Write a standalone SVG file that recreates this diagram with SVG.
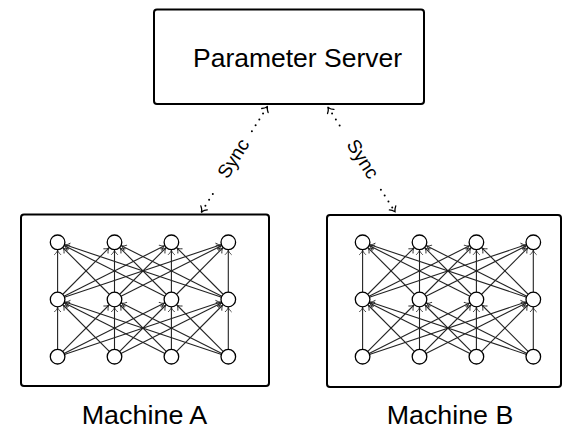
<svg xmlns="http://www.w3.org/2000/svg" xmlns:xlink="http://www.w3.org/1999/xlink" width="563" height="429" viewBox="0 0 563 429">
  <style>
    .box { fill: #ffffff; stroke: #000000; stroke-width: 2; }
    .label { font-family: "Liberation Sans", Arial, sans-serif; font-size: 26px; fill: #000000; text-anchor: middle; }
    .sync { font-family: "Liberation Sans", Arial, sans-serif; font-size: 19px; fill: #000000; text-anchor: middle; }
    .edge { stroke: #222222; stroke-width: 1.1; fill: none; marker-end: url(#tip); }
    .neuron { fill: #ffffff; stroke: #000000; stroke-width: 1.3; }
    .dots { stroke: #000000; stroke-width: 2; stroke-linecap: round; stroke-dasharray: 0 7; fill: none; }
  </style>
  <defs>
    <!-- small open arrow tip, pulled back onto the neuron outline -->
    <marker id="tip" markerUnits="userSpaceOnUse" viewBox="-6 -5 16 10" markerWidth="16" markerHeight="10" refX="8.2" refY="0" orient="auto" overflow="visible">
      <path d="M -4,-3 C -2.5,-1.3 -0.8,-0.4 0,0 C -0.8,0.4 -2.5,1.3 -4,3" fill="none" stroke="#222222" stroke-width="0.9" stroke-linecap="round"/>
    </marker>
    <!-- open arrow tip for the sync links -->
    <marker id="syncTip" markerUnits="userSpaceOnUse" viewBox="-6 -5 8 10" markerWidth="8" markerHeight="10" refX="0" refY="0" orient="auto-start-reverse" overflow="visible">
      <path d="M -4.5,-3.8 C -2.8,-1.6 -0.9,-0.5 0,0 C -0.9,0.5 -2.8,1.6 -4.5,3.8" fill="none" stroke="#000000" stroke-width="1.3" stroke-linecap="round"/>
    </marker>
    <!-- 4-4-4 fully connected network -->
    <g id="net">
      <g id="edges">
        <!-- bottom layer to middle layer -->
        <line class="edge" x1="57.6" y1="356.7" x2="57.6" y2="299.5"/>
        <line class="edge" x1="57.6" y1="356.7" x2="114.5" y2="299.5"/>
        <line class="edge" x1="57.6" y1="356.7" x2="171.4" y2="299.5"/>
        <line class="edge" x1="57.6" y1="356.7" x2="228.3" y2="299.5"/>
        <line class="edge" x1="114.5" y1="356.7" x2="57.6" y2="299.5"/>
        <line class="edge" x1="114.5" y1="356.7" x2="114.5" y2="299.5"/>
        <line class="edge" x1="114.5" y1="356.7" x2="171.4" y2="299.5"/>
        <line class="edge" x1="114.5" y1="356.7" x2="228.3" y2="299.5"/>
        <line class="edge" x1="171.4" y1="356.7" x2="57.6" y2="299.5"/>
        <line class="edge" x1="171.4" y1="356.7" x2="114.5" y2="299.5"/>
        <line class="edge" x1="171.4" y1="356.7" x2="171.4" y2="299.5"/>
        <line class="edge" x1="171.4" y1="356.7" x2="228.3" y2="299.5"/>
        <line class="edge" x1="228.3" y1="356.7" x2="57.6" y2="299.5"/>
        <line class="edge" x1="228.3" y1="356.7" x2="114.5" y2="299.5"/>
        <line class="edge" x1="228.3" y1="356.7" x2="171.4" y2="299.5"/>
        <line class="edge" x1="228.3" y1="356.7" x2="228.3" y2="299.5"/>
        <!-- middle layer to top layer -->
        <line class="edge" x1="57.6" y1="299.5" x2="57.6" y2="242.3"/>
        <line class="edge" x1="57.6" y1="299.5" x2="114.5" y2="242.3"/>
        <line class="edge" x1="57.6" y1="299.5" x2="171.4" y2="242.3"/>
        <line class="edge" x1="57.6" y1="299.5" x2="228.3" y2="242.3"/>
        <line class="edge" x1="114.5" y1="299.5" x2="57.6" y2="242.3"/>
        <line class="edge" x1="114.5" y1="299.5" x2="114.5" y2="242.3"/>
        <line class="edge" x1="114.5" y1="299.5" x2="171.4" y2="242.3"/>
        <line class="edge" x1="114.5" y1="299.5" x2="228.3" y2="242.3"/>
        <line class="edge" x1="171.4" y1="299.5" x2="57.6" y2="242.3"/>
        <line class="edge" x1="171.4" y1="299.5" x2="114.5" y2="242.3"/>
        <line class="edge" x1="171.4" y1="299.5" x2="171.4" y2="242.3"/>
        <line class="edge" x1="171.4" y1="299.5" x2="228.3" y2="242.3"/>
        <line class="edge" x1="228.3" y1="299.5" x2="57.6" y2="242.3"/>
        <line class="edge" x1="228.3" y1="299.5" x2="114.5" y2="242.3"/>
        <line class="edge" x1="228.3" y1="299.5" x2="171.4" y2="242.3"/>
        <line class="edge" x1="228.3" y1="299.5" x2="228.3" y2="242.3"/>
      </g>
      <g id="neurons">
        <circle class="neuron" cx="57.6" cy="242.3" r="7.3"/>
        <circle class="neuron" cx="114.5" cy="242.3" r="7.3"/>
        <circle class="neuron" cx="171.4" cy="242.3" r="7.3"/>
        <circle class="neuron" cx="228.3" cy="242.3" r="7.3"/>
        <circle class="neuron" cx="57.6" cy="299.5" r="7.3"/>
        <circle class="neuron" cx="114.5" cy="299.5" r="7.3"/>
        <circle class="neuron" cx="171.4" cy="299.5" r="7.3"/>
        <circle class="neuron" cx="228.3" cy="299.5" r="7.3"/>
        <circle class="neuron" cx="57.6" cy="356.7" r="7.3"/>
        <circle class="neuron" cx="114.5" cy="356.7" r="7.3"/>
        <circle class="neuron" cx="171.4" cy="356.7" r="7.3"/>
        <circle class="neuron" cx="228.3" cy="356.7" r="7.3"/>
      </g>
    </g>
  </defs>

  <rect width="563" height="429" fill="#ffffff"/>

  <!-- parameter server -->
  <g id="parameter-server">
    <rect class="box" x="154" y="9.5" width="270" height="94.5" rx="3"/>
    <text class="label" x="297.5" y="66.5" textLength="209" lengthAdjust="spacingAndGlyphs">Parameter Server</text>
  </g>

  <!-- machine A -->
  <g id="machine-a">
    <rect class="box" x="21" y="214.5" width="248" height="171.5" rx="3"/>
    <use xlink:href="#net" href="#net"/>
    <text class="label" x="144.5" y="424.3" textLength="125.6" lengthAdjust="spacingAndGlyphs">Machine A</text>
  </g>

  <!-- machine B -->
  <g id="machine-b">
    <rect class="box" x="327" y="215" width="234" height="172" rx="3"/>
    <use xlink:href="#net" href="#net" transform="translate(305,0)"/>
    <text class="label" x="450" y="424.3" textLength="126.6" lengthAdjust="spacingAndGlyphs">Machine B</text>
  </g>

  <!-- sync links between the machines and the server -->
  <g id="connectors">
    <g id="sync-a">
      <path class="dots" d="M 201.7,211.7 L 215.5,189.6" marker-start="url(#syncTip)"/>
      <path class="dots" d="M 251.9,131.3 L 267.3,106.7" marker-end="url(#syncTip)"/>
      <text class="sync" transform="translate(234.5,159.2) rotate(-58)" y="5">Sync</text>
    </g>
    <g id="sync-b">
      <path class="dots" d="M 328.3,107.7 L 342.6,130.0"  marker-start="url(#syncTip)"/>
      <path class="dots" d="M 380.9,189.7 L 395,211.7" marker-end="url(#syncTip)"/>
      <text class="sync" transform="translate(361.6,159.7) rotate(57.3)" y="5">Sync</text>
    </g>
  </g>
</svg>
